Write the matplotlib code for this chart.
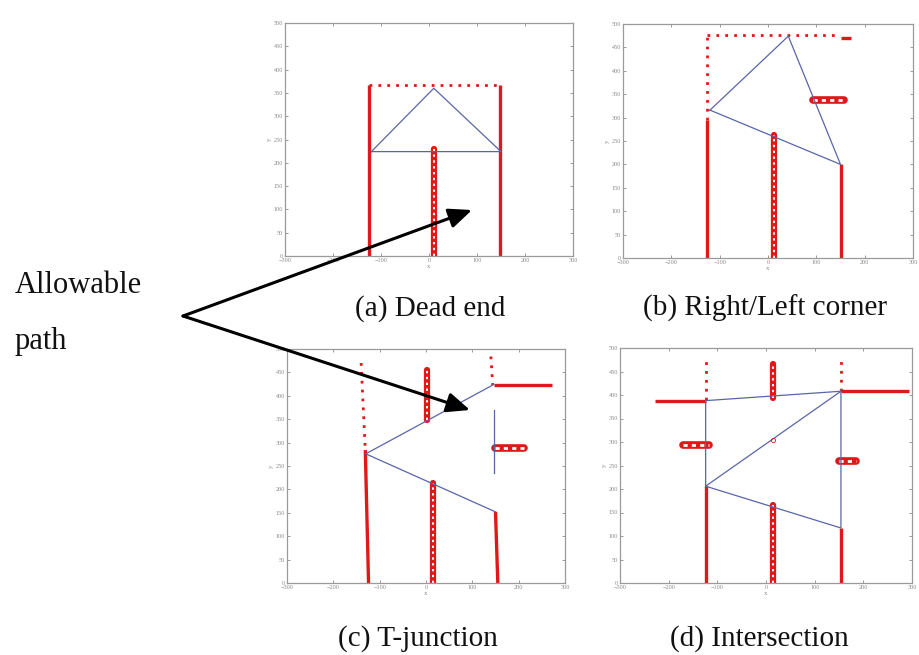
import matplotlib.pyplot as plt
from matplotlib.patches import FancyArrowPatch

W, H = 920, 655

# axis ticks shared by all four panels
x_ticks = [-300, -200, -100, 0, 100, 200, 300]
y_ticks = [0, 50, 100, 150, 200, 250, 300, 350, 400, 450, 500]

captions = ["(a) Dead end", "(b) Right/Left corner", "(c) T-junction", "(d) Intersection"]

# red wall detections: (x0, x1), (y0, y1)
dense_a = [((-124, -124), (0, 367)), ((148, 148), (0, 367))]
sparse_a = [((-124, 148), (367, 367))]
column_a = [((10, 10), (0, 230))]
blobs_a = []
path_a_x = [-120, 150, 10, -120]
path_a_y = [224, 224, 360, 224]

dense_b = [((-126, -126), (0, 295)), ((150, 150), (0, 200)), ((152, 172), (470, 470))]
sparse_b = [((-126, -126), (295, 476)), ((-126, 138), (476, 476))]
column_b = [((13, 13), (0, 262))]
blobs_b = [((94, 158), (337, 337))]
path_b_x = [-120, 42, 150, -120]
path_b_y = [316, 474, 200, 316]

dense_c = [((-131, -124), (284, 0)), ((150, 155), (152, 0)), ((146, 272), (424, 424))]
sparse_c = [((-140, -131), (470, 284)), ((140, 144), (484, 423))]
column_c = [((2, 2), (349, 456)), ((15, 15), (0, 213))]
blobs_c = [((150, 211), (288, 288))]
path_c_x = [146, -130, 150]
path_c_y = [424, 276, 152]
path_c_vx = [146, 146]
path_c_vy = [235, 370]

dense_d = [((-124, -124), (0, 206)), ((154, 154), (0, 117)),
           ((-229, -124), (388, 388)), ((154, 293), (408, 408))]
sparse_d = [((-124, -124), (390, 482)), ((154, 154), (408, 479))]
column_d = [((15, 15), (394, 465)), ((15, 15), (0, 165))]
blobs_d = [((-171, -117), (294, 294)), ((151, 185), (259, 259))]
path_d_x = [154, -124, -124, 154, 154, -124]
path_d_y = [408, 388, 206, 408, 117, 206]
mark_d = (15, 305)

# axes boxes in image pixels: left, right, top, bottom
boxes = [(285, 573, 23, 256), (623, 913, 24, 258), (287, 565, 349, 583), (620, 912, 348, 583)]

plt.rcParams['font.family'] = ['Liberation Serif', 'DejaVu Serif']
fig = plt.figure(figsize=(W / 100, H / 100), dpi=100)

RED = '#e01818'
BLUE = '#5866a8'
GRAY = '#8a8a8a'

panels = [
    (dense_a, sparse_a, column_a, blobs_a, path_a_x, path_a_y),
    (dense_b, sparse_b, column_b, blobs_b, path_b_x, path_b_y),
    (dense_c, sparse_c, column_c, blobs_c, path_c_x, path_c_y),
    (dense_d, sparse_d, column_d, blobs_d, path_d_x, path_d_y),
]

axes = []
for (l, r, t, b), (dense, sparse, column, blobs, px, py) in zip(boxes, panels):
    ax = fig.add_axes([l / W, (H - b) / H, (r - l) / W, (b - t) / H])
    axes.append(ax)
    for xs, ys in dense:
        ax.plot(xs, ys, color=RED, lw=2.4, solid_capstyle='butt')
    for xs, ys in sparse:
        ax.plot(xs, ys, color=RED, lw=2.0, linestyle=(0, (1, 2.2)))
    for xs, ys in column:
        ax.plot(xs, ys, color=RED, lw=4.5, solid_capstyle='round')
        ax.plot(xs, ys, color='white', lw=1.4, linestyle=(0, (1.2, 1.8)))
    for xs, ys in blobs:
        ax.plot(xs, ys, color=RED, lw=5.5, solid_capstyle='round')
        ax.plot(xs, ys, color='white', lw=2, linestyle=(0, (1.5, 1.5)))
    ax.plot(px, py, color=BLUE, lw=0.9)

    ax.set_xlim(-300, 300)
    ax.set_ylim(0, 500)
    ax.set_xticks(x_ticks)
    ax.set_yticks(y_ticks)
    ax.tick_params(direction='in', length=2.5, width=0.6, top=True, right=True,
                   labelsize=4.5, labelcolor=GRAY, color=GRAY, pad=1.5)
    for s in ax.spines.values():
        s.set_color('#9a9a9a')
        s.set_linewidth(0.9)
    ax.set_xlabel('x', fontsize=5, color=GRAY, labelpad=1)
    ax.set_ylabel('y', fontsize=5, color=GRAY, labelpad=1)

axes[2].plot(path_c_vx, path_c_vy, color=BLUE, lw=0.9)
axes[3].plot(*mark_d, marker='o', mfc='none', mec=RED, ms=3, mew=0.6)

# captions
cap_pos = [(430, 316), (765, 316), (418, 646), (759, 646)]
for text, (cx, cy) in zip(captions, cap_pos):
    fig.text(cx / W, (H - cy) / H, text, fontsize=21, ha='center', va='baseline', color='#111')

fig.text(15 / W, (H - 293) / H, "Allowable", fontsize=22, ha='left', va='baseline', color='#111')
fig.text(15 / W, (H - 349) / H, "path", fontsize=22, ha='left', va='baseline', color='#111')

# arrows pointing to the free space
for tip in [(472, 210), (470, 410)]:
    fig.add_artist(FancyArrowPatch(
        (183 / W, (H - 316) / H), (tip[0] / W, (H - tip[1]) / H),
        transform=fig.transFigure, arrowstyle='-|>,head_length=14,head_width=6',
        color='black', lw=2.2, shrinkA=0, shrinkB=0))

plt.savefig("out.png", dpi=100)
